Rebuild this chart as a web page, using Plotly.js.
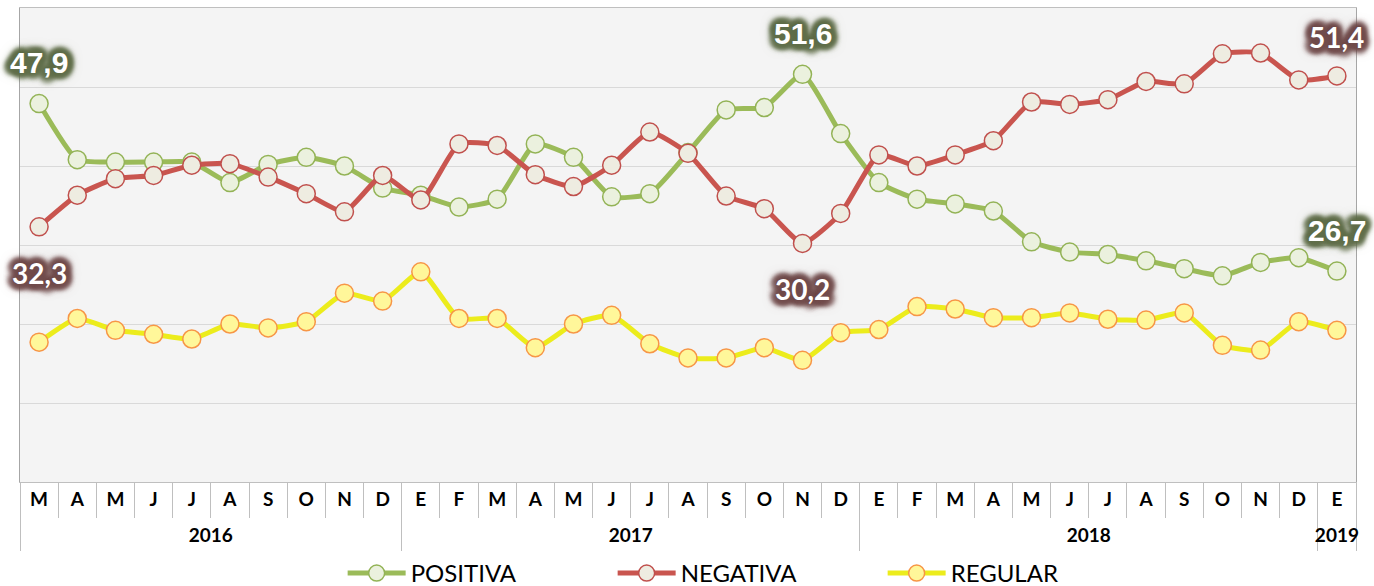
<!DOCTYPE html>
<html><head><meta charset="utf-8">
<script src="https://cdn.plot.ly/plotly-3.0.1.min.js"></script>
<style>html,body{margin:0;padding:0;background:#fff;}#chart{width:1374px;height:586px;}</style>
</head><body><div id="chart"></div>
<script>
const monthLabels = ['M','A','M','J','J','A','S','O','N','D',
  'E','F','M','A','M','J','J','A','S','O','N','D',
  'E','F','M','A','M','J','J','A','S','O','N','D',
  'E'];
const yearLabels = ['2016','2016','2016','2016','2016','2016','2016','2016','2016','2016',
  '2017','2017','2017','2017','2017','2017','2017','2017','2017','2017','2017','2017',
  '2018','2018','2018','2018','2018','2018','2018','2018','2018','2018','2018','2018',
  '2019'];
const positiva = [47.9,40.8,40.5,40.5,40.5,37.9,40.2,41.1,40.0,37.2,
  36.3,34.8,35.8,42.8,41.1,36.1,36.5,41.7,47.1,47.4,51.6,44.1,
  37.9,35.8,35.2,34.3,30.4,29.1,28.8,28.0,27.0,26.1,27.8,28.4,
  26.7];
const negativa = [32.3,36.3,38.4,38.8,40.1,40.3,38.6,36.5,34.2,38.8,
  35.7,42.8,42.6,38.9,37.4,40.1,44.3,41.6,36.2,34.6,30.2,34.0,
  41.4,40.0,41.4,43.2,48.1,47.8,48.4,50.7,50.4,54.2,54.3,50.9,
  51.4];
const regular = [17.7,20.7,19.2,18.7,18.1,20.0,19.5,20.3,23.9,22.9,
  26.6,20.7,20.7,17.0,20.0,21.1,17.5,15.7,15.7,17.0,15.4,18.9,
  19.3,22.2,21.9,20.8,20.8,21.4,20.6,20.5,21.4,17.3,16.7,20.3,
  19.2];
const seriesNames = ['POSITIVA','NEGATIVA','REGULAR'];
const labeledPoints = [0, 20, 34];

// month positions (index along the time axis)
const idx = monthLabels.map((_, i) => i);
const monthBounds = idx.map(i => i - 0.5).concat([monthLabels.length - 0.5]);
// year groups derived from yearLabels
const yearNames = [], yearSpans = [], yearBounds = [-0.5];
yearLabels.forEach((y, i) => {
  if (i === 0 || y !== yearLabels[i - 1]) { yearNames.push(y); yearSpans.push([i, i]); }
  yearSpans[yearSpans.length - 1][1] = i;
  if (i === yearLabels.length - 1 || y !== yearLabels[i + 1]) yearBounds.push(i + 0.5);
});
const yearMid = yearSpans.map(p => (p[0] + p[1]) / 2);

function mkTrace(name, y, lineColor, fill, edge, xa) {
  return {
    type: 'scatter', mode: 'lines+markers', name: name,
    x: idx, y: y, xaxis: xa, yaxis: 'y',
    line: {color: lineColor, width: 5, shape: 'spline', smoothing: 0.5},
    marker: {size: 18, color: fill, line: {color: edge, width: 1.5}},
    hoverinfo: 'skip'
  };
}
const traces = [
  mkTrace(seriesNames[0], positiva, '#9bbb59', '#ebf1de', '#93b356', 'x'),
  mkTrace(seriesNames[1], negativa, '#c9554f', '#eeece1', '#c0504d', 'x'),
  mkTrace(seriesNames[2], regular, '#ecec1c', '#fff79a', '#f79646', 'x2')
];

function glow(c) {
  const s = [];
  for (let a = 0; a < 360; a += 30) {
    const r = a * Math.PI / 180;
    s.push((5 * Math.cos(r)).toFixed(1) + 'px ' + (5 * Math.sin(r)).toFixed(1) + 'px 5px ' + c);
  }
  s.push('0 0 10px ' + c, '0 0 14px ' + c, '0 0 3px ' + c);
  return s.join(', ');
}
const greenGlow = glow('#606e4a');
const redGlow = glow('#714c4c');

const fmt = v => v.toFixed(1).replace('.', ',');
const annotations = [];
labeledPoints.forEach(i => {
  annotations.push({
    xref: 'x', yref: 'y', x: i, y: positiva[i], text: fmt(positiva[i]),
    showarrow: false, xanchor: 'center', yanchor: 'middle', yshift: 41,
    font: {family: 'Liberation Sans, Arial, sans-serif', size: 30, weight: 700, color: '#ffffff', shadow: greenGlow}
  });
  annotations.push({
    xref: 'x', yref: 'y', x: i, y: negativa[i], text: fmt(negativa[i]),
    showarrow: false, xanchor: 'center', yanchor: 'middle', yshift: i === 34 ? 39 : -46,
    font: {family: 'Lato, sans-serif', size: 28, weight: 700, color: '#ffffff', shadow: redGlow}
  });
});

const tickFont = {family: 'Lato, sans-serif', size: 19, weight: 700, color: '#000000'};
const layout = {
  width: 1374, height: 586,
  margin: {l: 20, r: 18, t: 8, b: 104, autoexpand: false},
  paper_bgcolor: '#ffffff', plot_bgcolor: '#f4f4f4',
  showlegend: true,
  legend: {
    orientation: 'h', x: 0.2415, xanchor: 'left', y: -0.193, yanchor: 'middle',
    font: {family: 'Lato, sans-serif', size: 24, color: '#000000'},
    entrywidth: 197, itemwidth: 58, bgcolor: 'rgba(0,0,0,0)'
  },
  xaxis: {
    range: [-0.5, monthLabels.length - 0.5], showgrid: false, zeroline: false,
    showline: true, linecolor: '#bfbfbf', linewidth: 1, mirror: true,
    tickmode: 'array', tickvals: idx, ticktext: monthLabels, ticks: '',
    minor: {tickmode: 'array', tickvals: monthBounds, ticks: 'outside', ticklen: 35, tickcolor: '#bfbfbf', tickwidth: 1, showgrid: false},
    tickfont: tickFont, fixedrange: true
  },
  xaxis2: {
    overlaying: 'x', anchor: 'y', side: 'bottom',
    range: [-0.5, monthLabels.length - 0.5], showgrid: false, zeroline: false, showline: false,
    tickmode: 'array', tickvals: yearMid, ticktext: yearNames, ticks: '',
    minor: {tickmode: 'array', tickvals: yearBounds, ticks: 'outside', ticklen: 68, tickcolor: '#bfbfbf', tickwidth: 1, showgrid: false},
    ticklabelstandoff: 40,
    tickfont: tickFont, fixedrange: true
  },
  yaxis: {
    range: [0, 60], dtick: 10, showticklabels: false, ticks: '',
    showgrid: true, gridcolor: '#d9d9d9', gridwidth: 1, zeroline: false,
    showline: true, linecolor: '#a6a6a6', mirror: true, fixedrange: true
  },
  annotations: annotations
};
Plotly.newPlot('chart', traces, layout, {displayModeBar: false, staticPlot: true});
</script></body></html>
